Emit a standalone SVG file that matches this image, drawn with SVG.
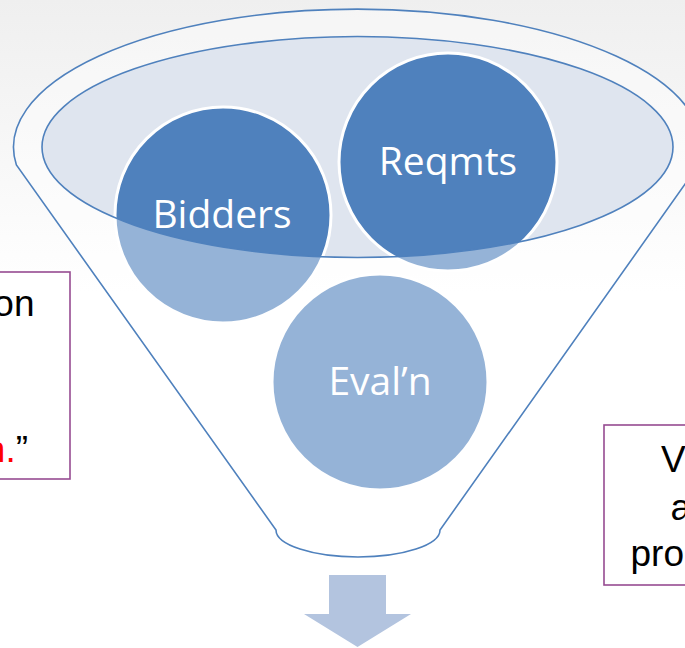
<svg xmlns="http://www.w3.org/2000/svg" width="685" height="648" viewBox="0 0 685 648">
  <defs>
    <linearGradient id="bg" x1="0" y1="0" x2="0" y2="1" gradientUnits="objectBoundingBox">
      <stop offset="0" stop-color="#efefef"/>
      <stop offset="0.45" stop-color="#ffffff"/>
      <stop offset="1" stop-color="#ffffff"/>
    </linearGradient>
    <clipPath id="innerClip">
      <ellipse cx="357.5" cy="147" rx="315.5" ry="110.5"/>
    </clipPath>
  </defs>
  <style>
    .circle { fill: #4f81bd; stroke: #ffffff; stroke-width: 3; }
    .label { font-family: "Open Sans", "DejaVu Sans", sans-serif; font-size: 39px; fill: #ffffff; text-anchor: middle; }
    .line { fill: none; stroke: #4f81bd; stroke-width: 1.6; }
    .box { fill: #ffffff; stroke: #964b91; stroke-width: 1.6; }
    .btxt { font-family: "Liberation Sans", Arial, sans-serif; font-size: 37px; fill: #000000; }
  </style>

  <rect x="0" y="0" width="685" height="648" fill="url(#bg)"/>

  <g id="funnel">
    <ellipse cx="357.5" cy="147" rx="315.5" ry="110.5" fill="#dfe5ef"/>
  </g>

  <g id="node-bidders">
    <circle class="circle" cx="223" cy="215" r="108"/>
  </g>
  <g id="node-reqmts">
    <circle class="circle" cx="448" cy="162" r="109"/>
  </g>
  <g id="node-evaln">
    <circle class="circle" cx="380" cy="382" r="108"/>
  </g>

  <g id="funnel-overlay">
    <path fill="#ffffff" fill-opacity="0.4" fill-rule="evenodd"
      d="M16.4,165 A344,138 0 1 1 698.6,165 L440,530 A82,27 0 0 1 276,530 Z M42,147 A315.5,110.5 0 1 0 673,147 A315.5,110.5 0 1 0 42,147 Z"/>
    <path class="line" d="M16.4,165 A344,138 0 1 1 698.6,165 L440,530 A82,27 0 0 1 276,530 Z"/>
    <ellipse class="line" cx="357.5" cy="147" rx="315.5" ry="110.5"/>
  </g>

  <g id="labels">
    <text class="label" x="448" y="175">Reqmts</text>
    <text class="label" x="222" y="228">Bidders</text>
    <text class="label" x="380" y="395">Eval’n</text>
  </g>

  <g id="left-box">
    <rect class="box" x="-10" y="272" width="80" height="207"/>
    <text class="btxt" x="34.5" y="316" text-anchor="end">on</text>
    <text class="btxt" x="28" y="462" text-anchor="end"><tspan fill="#ff0000">n.</tspan>”</text>
  </g>

  <g id="right-box">
    <rect class="box" x="604" y="425" width="100" height="160"/>
    <text class="btxt" x="661" y="472">V</text>
    <text class="btxt" x="670.5" y="520">a</text>
    <text class="btxt" x="630.5" y="566">pro</text>
  </g>

  <g id="connectors">
    <path id="arrow-down" fill="#b3c4df" d="M329,575 L386,575 L386,614 L411,614 L357.5,647 L304,614 L329,614 Z"/>
  </g>
</svg>
